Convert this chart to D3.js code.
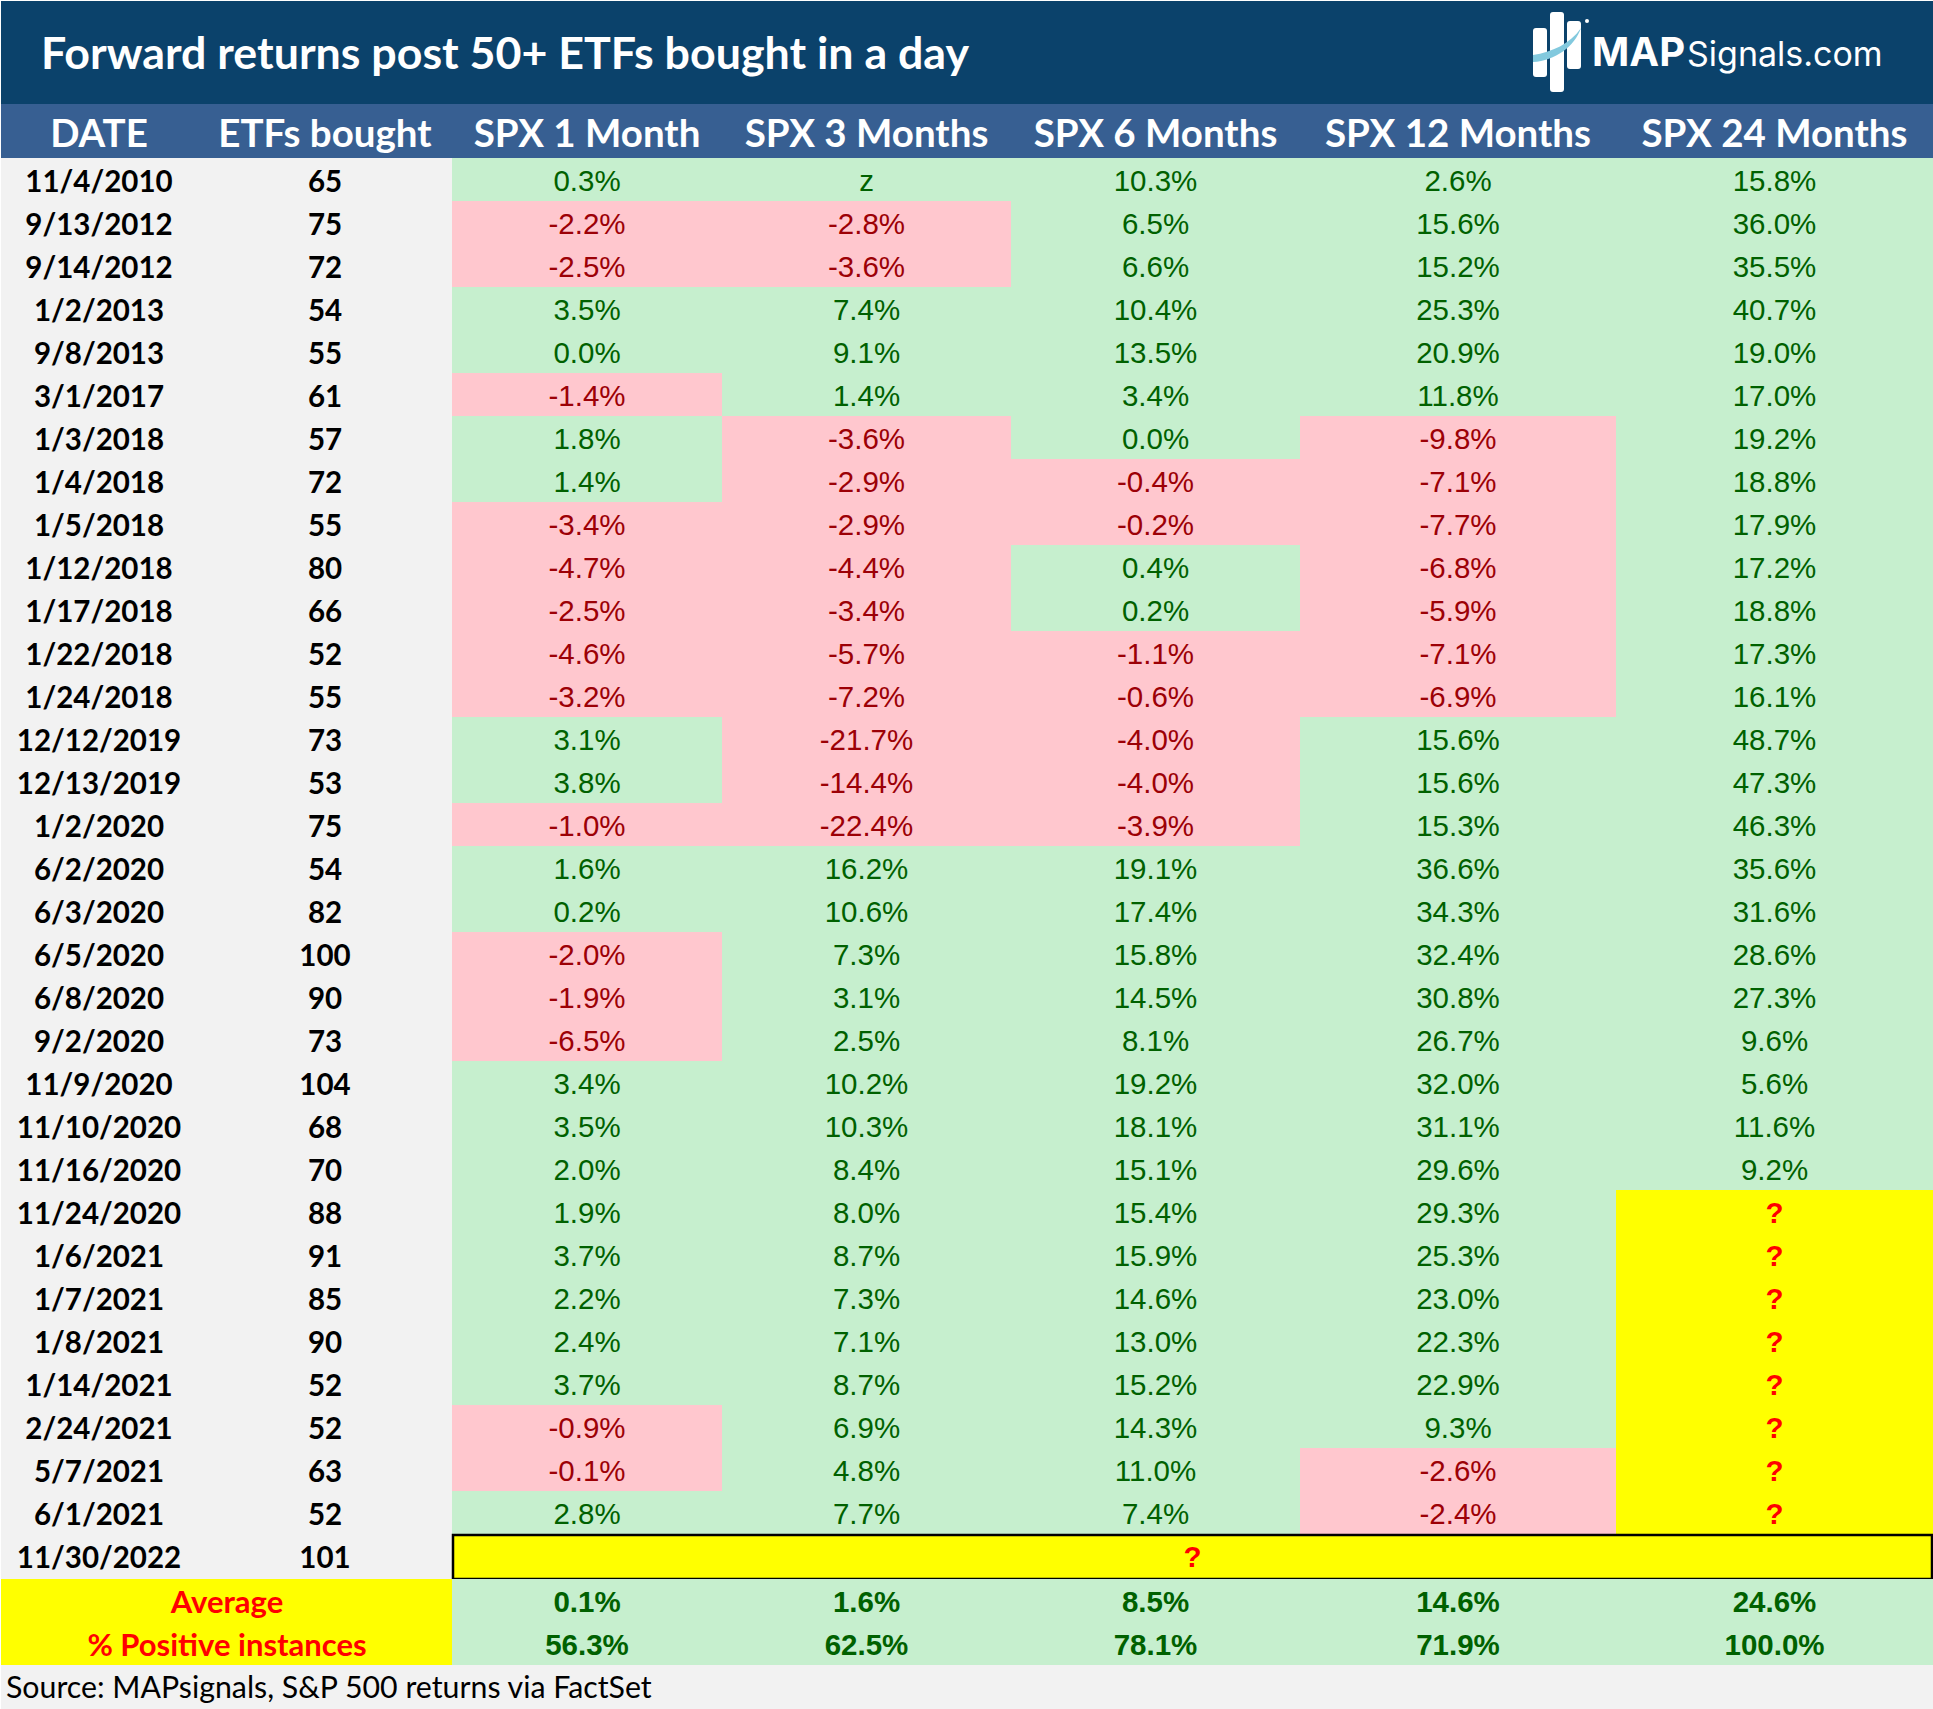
<!DOCTYPE html>
<html>
<head>
<meta charset="utf-8">
<script src="https://cdn.jsdelivr.net/npm/d3@7"></script>
<style>
	html, body { margin: 0; padding: 0; background: #ffffff; }
	svg { display: block; }
</style>
</head>
<body>
<div id="chart"></div>
<script>
const titleText = "Forward returns post 50+ ETFs bought in a day";
const sourceText = "Source: MAPsignals, S&P 500 returns via FactSet";
const columns = ["DATE", "ETFs bought", "SPX 1 Month", "SPX 3 Months", "SPX 6 Months", "SPX 12 Months", "SPX 24 Months"];
const summaryLabels = ["Average", "% Positive instances"];

const dates = ["11/4/2010", "9/13/2012", "9/14/2012", "1/2/2013", "9/8/2013", "3/1/2017", "1/3/2018", "1/4/2018", "1/5/2018", "1/12/2018", "1/17/2018", "1/22/2018", "1/24/2018", "12/12/2019", "12/13/2019", "1/2/2020", "6/2/2020", "6/3/2020", "6/5/2020", "6/8/2020", "9/2/2020", "11/9/2020", "11/10/2020", "11/16/2020", "11/24/2020", "1/6/2021", "1/7/2021", "1/8/2021", "1/14/2021", "2/24/2021", "5/7/2021", "6/1/2021", "11/30/2022"];
const etfsBought = [65, 75, 72, 54, 55, 61, 57, 72, 55, 80, 66, 52, 55, 73, 53, 75, 54, 82, 100, 90, 73, 104, 68, 70, 88, 91, 85, 90, 52, 52, 63, 52, 101];

const spx1 = [0.3, -2.2, -2.5, 3.5, 0.0, -1.4, 1.8, 1.4, -3.4, -4.7, -2.5, -4.6, -3.2, 3.1, 3.8, -1.0, 1.6, 0.2, -2.0, -1.9, -6.5, 3.4, 3.5, 2.0, 1.9, 3.7, 2.2, 2.4, 3.7, -0.9, -0.1, 2.8];
const spx3 = ["z", -2.8, -3.6, 7.4, 9.1, 1.4, -3.6, -2.9, -2.9, -4.4, -3.4, -5.7, -7.2, -21.7, -14.4, -22.4, 16.2, 10.6, 7.3, 3.1, 2.5, 10.2, 10.3, 8.4, 8.0, 8.7, 7.3, 7.1, 8.7, 6.9, 4.8, 7.7];
const spx6 = [10.3, 6.5, 6.6, 10.4, 13.5, 3.4, 0.0, -0.4, -0.2, 0.4, 0.2, -1.1, -0.6, -4.0, -4.0, -3.9, 19.1, 17.4, 15.8, 14.5, 8.1, 19.2, 18.1, 15.1, 15.4, 15.9, 14.6, 13.0, 15.2, 14.3, 11.0, 7.4];
const spx12 = [2.6, 15.6, 15.2, 25.3, 20.9, 11.8, -9.8, -7.1, -7.7, -6.8, -5.9, -7.1, -6.9, 15.6, 15.6, 15.3, 36.6, 34.3, 32.4, 30.8, 26.7, 32.0, 31.1, 29.6, 29.3, 25.3, 23.0, 22.3, 22.9, 9.3, -2.6, -2.4];
const spx24 = [15.8, 36.0, 35.5, 40.7, 19.0, 17.0, 19.2, 18.8, 17.9, 17.2, 18.8, 17.3, 16.1, 48.7, 47.3, 46.3, 35.6, 31.6, 28.6, 27.3, 9.6, 5.6, 11.6, 9.2, "?", "?", "?", "?", "?", "?", "?", "?"];

const averages = [0.1, 1.6, 8.5, 14.6, 24.6];
const positiveShare = [56.3, 62.5, 78.1, 71.9, 100.0];

const series = [spx1, spx3, spx6, spx12, spx24];
// plain hyphen for negatives, as in the spreadsheet
const pct = d3.formatLocale({ decimal: ".", thousands: ",", grouping: [3], currency: ["$", ""], minus: "-" }).format(".1f");

const width = 1933, height = 1709;
const calibri = "Lato, 'Open Sans', sans-serif";
const arial = "'Liberation Sans', Arial, sans-serif";

const svg = d3.select("#chart").append("svg")
	.attr("width", width)
	.attr("height", height);

svg.append("rect").attr("x", 1).attr("y", 1).attr("width", width - 1).attr("height", height - 1).attr("fill", "#f2f2f2");

// column edges are not regular, so an ordinal scale holds them
const colLeft = d3.scaleOrdinal().domain(columns).range([1, 198, 452, 722, 1011, 1300, 1616]);
const colRight = d3.scaleOrdinal().domain(columns).range([198, 452, 722, 1011, 1300, 1616, 1933]);
const colMid = c => (colLeft(c) + colRight(c)) / 2;

// regular rows, the boxed last date row is a bit taller, then the two summary rows
const lastRow = dates[dates.length - 1];
const y = d3.scaleBand().domain(dates.slice(0, -1)).range([158, 1534]);
const ySummary = d3.scaleBand().domain(summaryLabels).range([1579, 1665]);
const lastTop = 1534, lastBottom = 1579;
const rowTop = d => d === lastRow ? lastTop : y(d);
const valueColumns = columns.slice(2);

// banner
svg.append("rect").attr("x", 1).attr("y", 1).attr("width", width - 1).attr("height", 103).attr("fill", "#0b426b");
svg.append("text")
	.attr("x", 41).attr("y", 69)
	.attr("fill", "#ffffff")
	.attr("textLength", 928)
	.attr("lengthAdjust", "spacingAndGlyphs")
	.style("font", "700 44px " + calibri)
	.text(titleText);

// logo
const logo = svg.append("g");
logo.selectAll("rect")
	.data([[1533, 28, 14, 49], [1550, 12, 14, 80], [1567, 21, 14, 48]])
	.enter().append("rect")
	.attr("x", d => d[0]).attr("y", d => d[1])
	.attr("width", d => d[2]).attr("height", d => d[3])
	.attr("rx", 3)
	.attr("fill", "#ffffff");
logo.append("path")
	.attr("d", "M1533,55 C1552,52 1570,44 1581,28 C1575,46 1555,61 1533,62 Z")
	.attr("fill", "#82c9de");
logo.append("circle").attr("cx", 1587).attr("cy", 21).attr("r", 2).attr("fill", "#ffffff");
logo.append("text")
	.attr("x", 1592).attr("y", 66)
	.attr("fill", "#ffffff")
	.style("font", "700 40px Inter, sans-serif")
	.text("MAP");
logo.append("text")
	.attr("x", 1687).attr("y", 66)
	.attr("fill", "#ffffff")
	.style("font", "400 34px Inter, sans-serif")
	.text("Signals.com");

// header row
svg.append("rect").attr("x", 1).attr("y", 104).attr("width", width - 1).attr("height", 54).attr("fill", "#375f92");
svg.selectAll(".col-head")
	.data(columns)
	.enter().append("text")
	.attr("class", "col-head")
	.attr("x", d => d === "DATE" ? 99 : colMid(d))
	.attr("y", 147)
	.attr("text-anchor", "middle")
	.attr("fill", "#ffffff")
	.style("font", "700 38.5px " + calibri)
	.text(d => d);

// date and count columns
const labelRows = svg.append("g");
labelRows.selectAll(".date")
	.data(dates)
	.enter().append("text")
	.attr("class", "date")
	.attr("x", 99)
	.attr("y", d => rowTop(d) + 34)
	.attr("text-anchor", "middle")
	.style("font", "700 29.5px " + calibri)
	.text(d => d);
labelRows.selectAll(".count")
	.data(etfsBought)
	.enter().append("text")
	.attr("class", "count")
	.attr("x", 325)
	.attr("y", (d, i) => rowTop(dates[i]) + 34)
	.attr("text-anchor", "middle")
	.style("font", "700 29.5px " + calibri)
	.text(d => d);

function cellFill(v) {
	if (v === "?") return "#ffff00";
	return v < 0 ? "#ffc7ce" : "#c6efce";
}
function cellInk(v) {
	if (v === "?") return "#ff0000";
	return v < 0 ? "#9c0006" : "#006100";
}
function cellText(v) {
	return typeof v === "string" ? v : pct(v) + "%";
}

// value cells
series.forEach((values, s) => {
	const c = valueColumns[s];
	const g = svg.append("g");
	g.selectAll("rect")
		.data(values)
		.enter().append("rect")
		.attr("x", colLeft(c))
		.attr("y", (d, i) => y(dates[i]))
		.attr("width", colRight(c) - colLeft(c))
		.attr("height", y.bandwidth())
		.attr("fill", cellFill)
		.attr("shape-rendering", "crispEdges");
	g.selectAll("text")
		.data(values)
		.enter().append("text")
		.attr("x", colMid(c))
		.attr("y", (d, i) => y(dates[i]) + 33)
		.attr("text-anchor", "middle")
		.attr("fill", cellInk)
		.style("font", (v => (v === "?" ? "700 " : "400 ") + "29.5px " + arial))
		.text(cellText);
});

// last date has no returns yet
svg.append("rect")
	.attr("x", 453).attr("y", lastTop + 1)
	.attr("width", 1479).attr("height", lastBottom - lastTop - 1)
	.attr("fill", "#ffff00")
	.attr("stroke", "#000000")
	.attr("stroke-width", 2.5);
svg.append("text")
	.attr("x", (452 + 1933) / 2)
	.attr("y", lastTop + 33)
	.attr("text-anchor", "middle")
	.attr("fill", "#ff0000")
	.style("font", "700 29.5px " + arial)
	.text("?");

// summary rows
[averages, positiveShare].forEach((values, r) => {
	const key = summaryLabels[r];
	const base = ySummary(key) + 34;
	svg.append("rect")
		.attr("x", 1).attr("y", ySummary(key))
		.attr("width", 451).attr("height", ySummary.bandwidth())
		.attr("fill", "#ffff00")
		.attr("shape-rendering", "crispEdges");
	svg.append("text")
		.attr("x", 227).attr("y", base)
		.attr("text-anchor", "middle")
		.attr("fill", "#ff0000")
		.style("font", "700 31px " + calibri)
		.text(key);
	values.forEach((v, s) => {
		const c = valueColumns[s];
		svg.append("rect")
			.attr("x", colLeft(c)).attr("y", ySummary(key))
			.attr("width", colRight(c) - colLeft(c)).attr("height", ySummary.bandwidth())
			.attr("fill", "#c6efce")
			.attr("shape-rendering", "crispEdges");
		svg.append("text")
			.attr("x", colMid(c)).attr("y", base - 1)
			.attr("text-anchor", "middle")
			.attr("fill", "#006100")
			.style("font", "700 29.5px " + arial)
			.text(pct(v) + "%");
	});
});

// source line
svg.append("text")
	.attr("x", 6).attr("y", 1698)
	.attr("fill", "#000000")
	.style("font", "400 30.3px " + calibri)
	.text(sourceText);
</script>
</body>
</html>
